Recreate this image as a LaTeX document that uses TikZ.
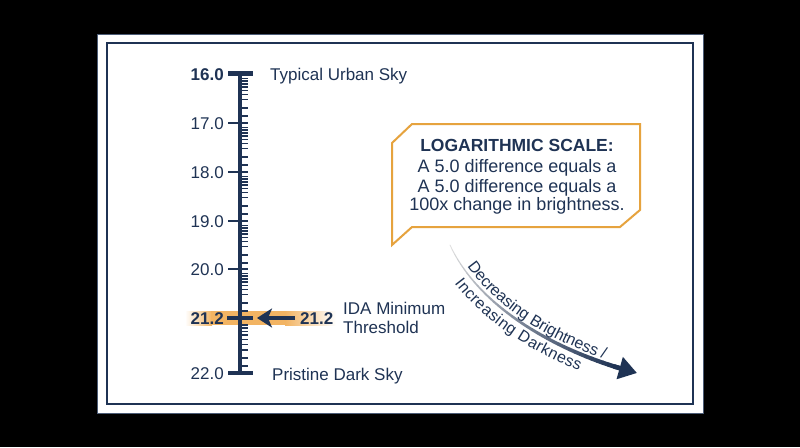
\documentclass[tikz,border=0pt]{standalone}
\usepackage{fontspec}
\setmainfont{Liberation Sans}
\usetikzlibrary{arrows.meta,decorations.text}
\definecolor{navy}{HTML}{1F3354}
\definecolor{gold}{HTML}{E6A33E}
\definecolor{bandc}{HTML}{F2B463}
\colorlet{arrstart}{gray!25}
\begin{document}
\begin{tikzpicture}[x=1pt,y=-1pt,
  numlbl/.style={anchor=base east,text=navy,inner sep=0pt,font=\fontsize{17}{17}\selectfont},
  numbold/.style={numlbl,font=\fontsize{17}{17}\selectfont\bfseries},
  sidelbl/.style={anchor=base west,text=navy,inner sep=0pt,font=\fontsize{17}{17}\selectfont},
  boxtxt/.style={anchor=base,text=navy,inner sep=0pt,font=\fontsize{18}{18}\selectfont},
  majortick/.style={navy,line width=1.4pt},
  minortick/.style={navy,line width=1.1pt},
  thickbar/.style={navy,line width=4.5pt}]
\fill[black] (0,0) rectangle (800,447);
\useasboundingbox (0,0) rectangle (800,447);
% frames
\draw[fill=white,draw=navy!80,line width=0.8pt] (97,34) rectangle (703,413);
\draw[navy,line width=1.4pt] (107,43) rectangle (693,404);
% orange band
\shade[left color=white,right color=bandc] (185,311) rectangle (212,325);
\fill[bandc] (211,311) rectangle (286,325);
\shade[left color=bandc,right color=white] (285,311) rectangle (336,325);
% axis
\draw[navy,line width=4.5pt] (240,72) -- (240,375);
\draw[thickbar] (228,73.5) -- (253,73.5);
\draw[thickbar] (228,373) -- (253,373);
\draw[thickbar] (227,318) -- (253,318);
\foreach \yy in {123,172,221,269}{\draw[majortick] (228,\yy) -- (248,\yy);}
\foreach \yy in {74,123,172,221,269}{
  \foreach \o in {4.3,7,10,13,16.7,20.7,25.7,34,42}{
    \draw[minortick] (242,\yy+\o) -- (248,\yy+\o);}}
\foreach \o in {7,10,13.5,17,21.5,26.5,32,40,48}{
  \draw[minortick] (242,318+\o) -- (248,318+\o);}
% left labels
\node[numbold] (l16) at (224,80) {16.0};
\node[numlbl] (l17) at (224,129) {17.0};
\node[numlbl] (l18) at (224,178) {18.0};
\node[numlbl] (l19) at (224,227) {19.0};
\node[numlbl] (l20) at (224,275) {20.0};
\node[numbold] (l212) at (224,324) {21.2};
\node[numlbl] (l22) at (224,379) {22.0};
% right labels
\node[sidelbl] (urban) at (270,80) {Typical Urban Sky};
\node[sidelbl] (pristine) at (272,380) {Pristine Dark Sky};
\node[sidelbl,font=\fontsize{17}{17}\selectfont\bfseries] (ida21) at (300,324) {21.2};
\node[sidelbl] (ida1) at (343,314) {IDA Minimum};
\node[sidelbl] (ida2) at (343,333) {Threshold};
\coordinate (idatip) at (257,318);
\draw[navy,line width=4.5pt,-{Stealth[length=15pt,width=19pt,inset=4pt]}] (295,318) -- (idatip);
% callout
\draw[gold,line width=2pt,fill=white,line join=miter] (392,143) -- (412,124) -- (640,124) -- (640,210) -- (620,227) -- (412,227) -- (392,245) -- cycle;
\node[boxtxt,font=\fontsize{17.5}{17.5}\selectfont\bfseries] (bt1) at (517,151) {LOGARITHMIC SCALE:};
\node[boxtxt] (bt2) at (517,172) {A 5.0 difference equals a};
\node[boxtxt] (bt3) at (517,192) {A 5.0 difference equals a};
\node[boxtxt] (bt4) at (517,210) {100x change in brightness.};
% curved gradient arrow
\def\Bx#1{(1-#1)^3*450+3*(1-#1)^2*#1*480+3*(1-#1)*#1^2*562+#1^3*637}
\def\By#1{(1-#1)^3*245+3*(1-#1)^2*#1*310+3*(1-#1)*#1^2*354+#1^3*373}
\foreach \i in {0,...,36}{
  \pgfmathsetmacro\ta{\i/40}
  \pgfmathsetmacro\tb{(\i+1)/40}
  \pgfmathsetmacro\xa{\Bx{\ta}}
  \pgfmathsetmacro\ya{\By{\ta}}
  \pgfmathsetmacro\xb{\Bx{\tb}}
  \pgfmathsetmacro\yb{\By{\tb}}
  \pgfmathsetmacro\pc{100*\i/36}
  \pgfmathsetmacro\lw{0.8+3.7*\i/36}
  \draw[line width=\lw pt,color=navy!\pc!arrstart,line cap=round] (\xa,\ya) -- (\xb,\yb);
}
\pgfmathsetmacro\xa{\Bx{0.9}}
\pgfmathsetmacro\ya{\By{0.9}}
\coordinate (arrbase) at (\xa,\ya);
\coordinate (arrtip) at (637,373);
\draw[navy,line width=4.5pt,-{Triangle[length=18pt,width=22pt]}] (arrbase) -- (arrtip);
\path[decorate,decoration={text along path,text color=navy,raise=4pt,
  text={|\fontsize{16}{16}\selectfont|Decreasing Brightness /},text align={left indent=28pt}}]
  (450,245) .. controls (480,310) and (562,354) .. (637,373);
\path[decorate,decoration={text along path,text color=navy,raise=-16pt,
  text={|\fontsize{16}{16}\selectfont|Increasing Darkness},text align={left indent=33pt}}]
  (450,245) .. controls (480,310) and (562,354) .. (637,373);
\end{tikzpicture}
\end{document}
